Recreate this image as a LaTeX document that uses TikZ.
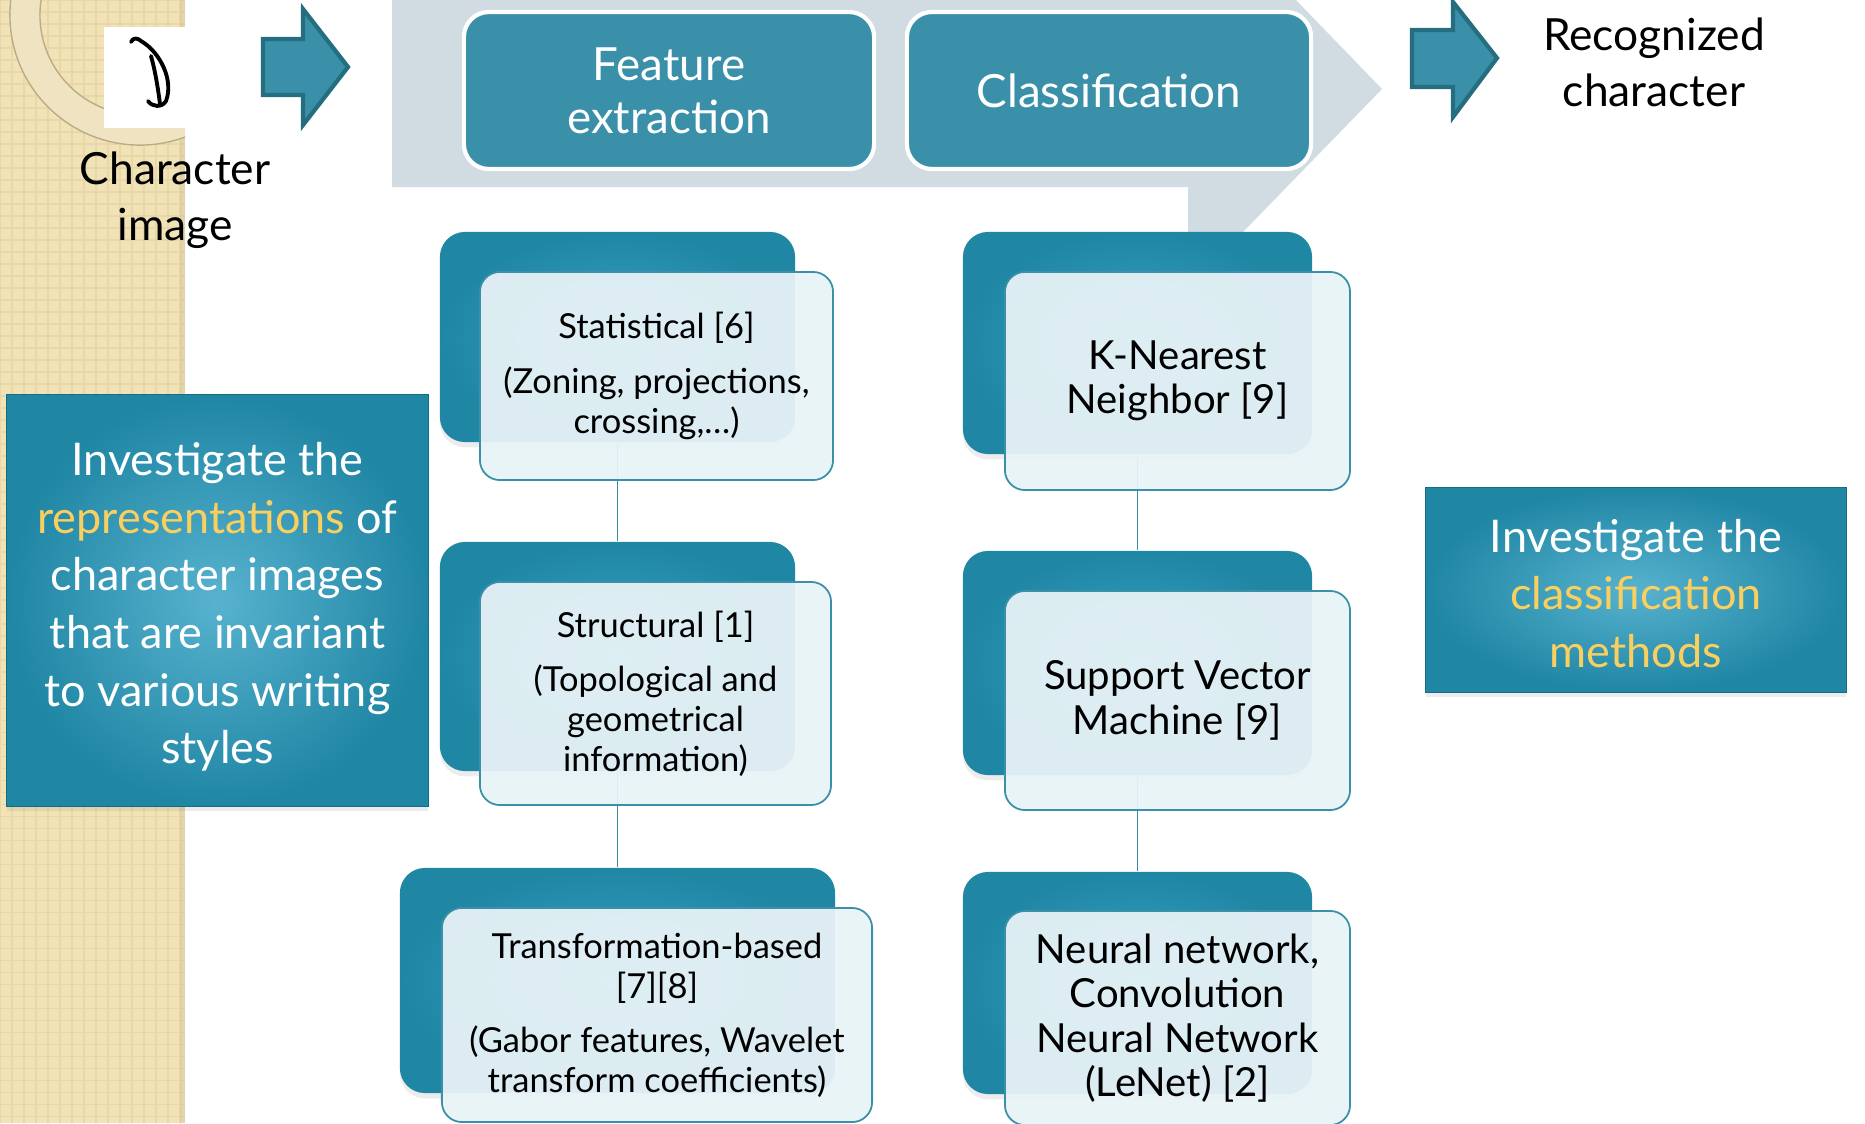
\documentclass[tikz,border=0pt]{standalone}
\usepackage{fontspec}
\setmainfont{Lato}
\usetikzlibrary{shadows}

\definecolor{stagecol}{HTML}{3A90A8}
\definecolor{arrowline}{HTML}{246E80}
\definecolor{chevcol}{HTML}{D0DCE2}
\definecolor{backin}{HTML}{3AA5C6}
\definecolor{backout}{HTML}{1F86A4}
\definecolor{frontfill}{HTML}{E8F3F7}
\definecolor{frontline}{HTML}{3B8FA8}
\definecolor{linkcol}{HTML}{3A8CA5}
\definecolor{hl}{HTML}{F9CF5F}
\definecolor{beige}{HTML}{F2E3B6}
\definecolor{beigeline}{HTML}{E8D7A8}

\begin{document}
\begin{tikzpicture}[x=0.01cm, y=-0.01cm,
    stage/.style={draw=white, line width=1.2pt, fill=stagecol, rounded corners=0.25cm,
        text=white, align=center, inner sep=0pt, font=\fontsize{13}{15}\selectfont},
    back/.style={rounded corners=0.25cm, inner color=backin, outer color=backout,
        drop shadow={shadow xshift=0pt, shadow yshift=-1.5pt, opacity=0.15}},
    front/.style={rounded corners=0.2cm, draw=frontline, line width=0.5pt,
        fill=frontfill, fill opacity=0.94, text opacity=1, align=center, inner sep=0pt},
    goal/.style={inner color=backin!85!white, outer color=backout, draw=backout!80!black,
        line width=0.3pt, text=white, align=center, inner sep=0pt,
        font=\fontsize{12.8}{16.4}\selectfont,
        drop shadow={shadow xshift=0pt, shadow yshift=-1.5pt, opacity=0.15}},
    label/.style={align=center, font=\fontsize{12.6}{16}\selectfont},
    link/.style={draw=linkcol, line width=0.45pt},
    bigarrow/.style={fill=stagecol, draw=arrowline, line width=1.2pt, line join=miter}]

    \useasboundingbox (0,0) rectangle (1865,1123);
    \clip (0,0) rectangle (1865,1123);

    % Background strip and ring
    \fill[beige] (0,0) rectangle (185,1123);
    \draw[beigeline, line width=0.5pt, step=0.12cm] (0,0) grid (185,1123);
    \fill[beigeline!80!black, opacity=0.25] (180,0) rectangle (185,1123);
    \begin{scope}
        \clip (0,0) rectangle (185,1123);
        \fill[beigeline!70!white, even odd rule] (140,15) circle (1.3cm) (140,15) circle (1cm);
        \draw[beigeline!80!black, line width=0.4pt] (140,15) circle (1.3cm) (140,15) circle (1cm);
    \end{scope}

    % Character image
    \fill[white] (104,27) rectangle (190,128);
    \draw[line width=1.1pt, line cap=round, line join=round]
        (131,42) .. controls (133,37) and (138,38) .. (141,41)
        .. controls (160,52) and (174,80) .. (166,101)
        .. controls (162,108) and (152,107) .. (148,101)
        (151,56) .. controls (155,70) and (158,88) .. (160,104);
    \node[label] (img) at (175,200) {Character\\image};

    % Pipeline band
    \fill[chevcol] (392,0) -- (1296,0) -- (1382,89) -- (1243,232) -- (1188,232)
        -- (1188,187) -- (392,187) -- cycle;
    \draw[bigarrow] (263,39) -- (303,39) -- (303,9) -- (348,67) -- (303,125)
        -- (303,95) -- (263,95) -- cycle;
    \draw[bigarrow] (1412,30) -- (1453,30) -- (1453,2) -- (1497,58) -- (1453,117)
        -- (1453,87) -- (1412,87) -- cycle;

    \node[stage, minimum width=4.10cm, minimum height=1.57cm] (fe) at (669,90.5) {Feature\\extraction};
    \node[stage, minimum width=4.04cm, minimum height=1.57cm] (cl) at (1109,90.5) {Classification};
    \node[label] (rec) at (1654,62) {Recognized\\character};

    % Goals
    \node[goal, minimum width=4.21cm, minimum height=4.11cm] (g1) at (217.5,600.5)
        {\mbox{}\\[-3.4pt]Investigate the\\\textcolor{hl}{representations} of\\character images\\that are invariant\\to various writing\\styles};
    \node[goal, minimum width=4.20cm, minimum height=2.04cm] (g2) at (1636,590)
        {\mbox{}\\[-5pt]Investigate the\\\textcolor{hl}{classification}\\\textcolor{hl}{methods}};

    % Back boxes
    \node[back, minimum width=3.55cm, minimum height=2.10cm] (stb) at (617.5,337) {};
    \node[back, minimum width=3.55cm, minimum height=2.29cm] (sub) at (617.5,656.5) {};
    \node[back, minimum width=4.35cm, minimum height=2.25cm] (trb) at (617.5,980.5) {};
    \node[back, minimum width=3.49cm, minimum height=2.22cm] (knb) at (1137.5,343) {};
    \node[back, minimum width=3.49cm, minimum height=2.24cm] (svb) at (1137.5,663) {};
    \node[back, minimum width=3.49cm, minimum height=2.22cm] (nnb) at (1137.5,983) {};

    % Paths
    \path[link] (stb) -- (sub);
    \path[link] (sub) -- (trb);
    \path[link] (knb) -- (svb);
    \path[link] (svb) -- (nnb);

    % Front boxes
    \begin{scope}[every node/.append style={font=\fontsize{9.8}{11.4}\selectfont}]
    \node[front, minimum width=3.53cm, minimum height=2.08cm] (st) at (656.5,376)
        {Statistical [6]\\[4pt](Zoning, projections,\\crossing,…)};
    \node[front, minimum width=3.51cm, minimum height=2.23cm] (su) at (655.5,693.5)
        {Structural [1]\\[4pt](Topological and\\geometrical\\information)};
    \node[front, minimum width=4.30cm, minimum height=2.14cm] (tr) at (657,1015)
        {Transformation-based\\{}[7][8]\\[4pt](Gabor features, Wavelet\\transform coefficients)};
    \end{scope}
    \begin{scope}[every node/.append style={font=\fontsize{11.4}{12.6}\selectfont}]
    \node[front, minimum width=3.45cm, minimum height=2.18cm] (kn) at (1177.5,381)
        {K-Nearest\\Neighbor [9]};
    \node[front, minimum width=3.45cm, minimum height=2.19cm] (sv) at (1177.5,700.5)
        {Support Vector\\Machine [9]};
    \node[front, minimum width=3.45cm, minimum height=2.14cm] (nn) at (1177.5,1018)
        {Neural network,\\Convolution\\Neural Network\\(LeNet) [2]};
    \end{scope}
\end{tikzpicture}
\end{document}
